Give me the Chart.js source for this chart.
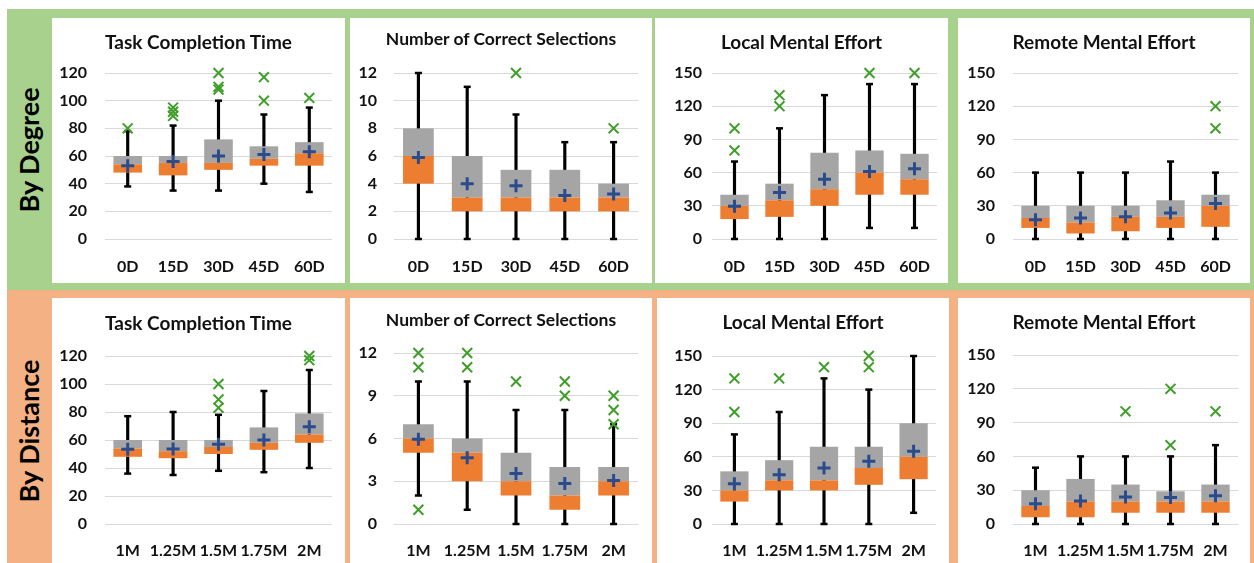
<!DOCTYPE html>
<html>
<head>
<meta charset="utf-8">
<script src="https://cdn.jsdelivr.net/npm/chart.js@4.4.1/dist/chart.umd.min.js"></script>
<style>
  body { margin: 0; width: 1254px; height: 563px; overflow: hidden; background: #fff; font-family: Lato, sans-serif; }
  .band { position: absolute; left: 7px; right: 0; }
  #bandTop { top: 9px; height: 281px; background: #a9d18e; }
  #bandBot { top: 290px; height: 273px; background: #f4b183; }
  .rowlab { position: absolute; left: 28px; font: bold 27px Lato; white-space: nowrap; color: #000;
            transform: translate(-50%, -50%) rotate(-90deg); }
  .panel { position: absolute; background: #fff; }
  .panel .ttl { position: absolute; left: 0; right: 0; height: 24px; line-height: 24px; text-align: center;
                font-family: Lato; font-weight: bold; color: #111; white-space: nowrap; }
  .panel canvas { position: absolute; left: 0; top: 0; }
</style>
</head>
<body>
<div class="band" id="bandTop"></div>
<div class="band" id="bandBot"></div>
<div class="rowlab" style="top:150px">By Degree</div>
<div class="rowlab" style="top:431px">By Distance</div>
<div id="panels"></div>

<script>
// ---------------------------------------------------------------------------
// Data: each box is [min, q1, median, q3, max]
// ---------------------------------------------------------------------------
const degreeLabels = ["0D", "15D", "30D", "45D", "60D"];
const distanceLabels = ["1M", "1.25M", "1.5M", "1.75M", "2M"];

// By degree
const tctDegreeBox = [[38, 48, 54, 60, 78], [35, 46, 55, 60, 82], [35, 50, 55, 72, 100], [40, 53, 58, 67, 90], [34, 53, 62, 70, 95]];
const tctDegreeMean = [53, 56, 60, 61, 63];
const tctDegreeOut = [["0D", 80], ["15D", 95], ["15D", 92], ["15D", 89], ["30D", 120], ["30D", 110], ["30D", 108], ["45D", 117], ["45D", 100], ["60D", 102]];

const ncsDegreeBox = [[0, 4, 6, 8, 12], [0, 2, 3, 6, 11], [0, 2, 3, 5, 9], [0, 2, 3, 5, 7], [0, 2, 3, 4, 7]];
const ncsDegreeMean = [5.9, 4.0, 3.85, 3.15, 3.25];
const ncsDegreeOut = [["30D", 12], ["60D", 8]];

const lmeDegreeBox = [[0, 18, 30, 40, 70], [0, 20, 35, 50, 100], [0, 30, 45, 78, 130], [10, 40, 60, 80, 140], [10, 40, 54, 77, 140]];
const lmeDegreeMean = [29.5, 42, 54, 61, 63.5];
const lmeDegreeOut = [["0D", 100], ["0D", 80], ["15D", 130], ["15D", 120], ["45D", 150], ["60D", 150]];

const rmeDegreeBox = [[0, 10, 19, 30, 60], [0, 5, 15, 30, 60], [0, 7, 20, 30, 60], [0, 10, 20, 35, 70], [0, 11, 30, 40, 60]];
const rmeDegreeMean = [17.5, 19, 20, 23.5, 32];
const rmeDegreeOut = [["60D", 120], ["60D", 100]];

// By distance
const tctDistanceBox = [[36, 48, 54, 60, 77], [35, 47, 52, 60, 80], [38, 50, 55, 60, 78], [37, 53, 58, 69, 95], [40, 58, 64, 79, 110]];
const tctDistanceMean = [53.4, 53.6, 57, 60, 69.5];
const tctDistanceOut = [["1.5M", 100], ["1.5M", 89], ["1.5M", 83], ["2M", 120], ["2M", 117]];

const ncsDistanceBox = [[2, 5, 6, 7, 10], [1, 3, 5, 6, 10], [0, 2, 3, 5, 8], [0, 1, 2, 4, 8], [0, 2, 3, 4, 7]];
const ncsDistanceMean = [5.95, 4.65, 3.55, 2.85, 3.05];
const ncsDistanceOut = [["1M", 12], ["1M", 11], ["1M", 1], ["1.25M", 12], ["1.25M", 11], ["1.5M", 10], ["1.75M", 10], ["1.75M", 9], ["2M", 9], ["2M", 8], ["2M", 7]];

const lmeDistanceBox = [[0, 20, 30, 47, 80], [0, 30, 39, 57, 100], [0, 30, 39, 69, 130], [0, 35, 50, 69, 120], [10, 40, 60, 90, 150]];
const lmeDistanceMean = [36, 44, 50, 56, 65];
const lmeDistanceOut = [["1M", 130], ["1M", 100], ["1.25M", 130], ["1.5M", 140], ["1.75M", 150], ["1.75M", 140]];

const rmeDistanceBox = [[0, 6, 16, 30, 50], [0, 6, 20, 40, 60], [0, 10, 20, 35, 60], [0, 10, 20, 29, 60], [0, 10, 20, 35, 70]];
const rmeDistanceMean = [18, 20.5, 24, 23.5, 25];
const rmeDistanceOut = [["1.5M", 100], ["1.75M", 120], ["1.75M", 70], ["2M", 100]];

// ---------------------------------------------------------------------------
// Panels (layout only)
// ---------------------------------------------------------------------------
const panels = [
  { title: "Task Completion Time", tsize: 19, labels: degreeLabels, box: tctDegreeBox, mean: tctDegreeMean, out: tctDegreeOut, max: 120, step: 20,
    x: 52, y: 18, w: 293, h: 265, ty: 24, top: 55, yw: 53, ypad: 18, right: 13, xh: 44, xpad: 10 },
  { title: "Number of Correct Selections", tsize: 17.5, labels: degreeLabels, box: ncsDegreeBox, mean: ncsDegreeMean, out: ncsDegreeOut, max: 12, step: 2,
    x: 350, y: 18, w: 302, h: 265, ty: 21, top: 55, yw: 44, ypad: 17, right: 14, xh: 44, xpad: 10 },
  { title: "Local Mental Effort", tsize: 19, labels: degreeLabels, box: lmeDegreeBox, mean: lmeDegreeMean, out: lmeDegreeOut, max: 150, step: 30,
    x: 655, y: 18, w: 293, h: 265, ty: 24, top: 55, yw: 57, ypad: 10, right: 11, xh: 44, xpad: 10 },
  { title: "Remote Mental Effort", tsize: 19, labels: degreeLabels, box: rmeDegreeBox, mean: rmeDegreeMean, out: rmeDegreeOut, max: 150, step: 30,
    x: 958, y: 18, w: 292, h: 265, ty: 24, top: 55, yw: 55, ypad: 18, right: 12, xh: 44, xpad: 10 },
  { title: "Task Completion Time", tsize: 19, labels: distanceLabels, box: tctDistanceBox, mean: tctDistanceMean, out: tctDistanceOut, max: 120, step: 20,
    x: 52, y: 298, w: 293, h: 265, ty: 25, top: 58, yw: 53, ypad: 18, right: 13, xh: 39, xpad: 9 },
  { title: "Number of Correct Selections", tsize: 17.5, labels: distanceLabels, box: ncsDistanceBox, mean: ncsDistanceMean, out: ncsDistanceOut, max: 12, step: 3,
    x: 350, y: 298, w: 302, h: 265, ty: 22, top: 55, yw: 44, ypad: 17, right: 14, xh: 39, xpad: 9 },
  { title: "Local Mental Effort", tsize: 19, labels: distanceLabels, box: lmeDistanceBox, mean: lmeDistanceMean, out: lmeDistanceOut, max: 150, step: 30,
    x: 657, y: 298, w: 292, h: 265, ty: 24, top: 58, yw: 55, ypad: 10, right: 13, xh: 39, xpad: 9 },
  { title: "Remote Mental Effort", tsize: 19, labels: distanceLabels, box: rmeDistanceBox, mean: rmeDistanceMean, out: rmeDistanceOut, max: 150, step: 30,
    x: 958, y: 298, w: 292, h: 265, ty: 24, top: 57, yw: 55, ypad: 18, right: 12, xh: 39, xpad: 9 },
];

Chart.defaults.font.family = "Lato";

const tickFont = { size: 16, weight: "bold" };

function drawPanel(p) {
  const div = document.createElement("div");
  div.className = "panel";
  div.style.cssText = `left:${p.x}px;top:${p.y}px;width:${p.w}px;height:${p.h}px`;
  div.innerHTML = `<canvas width="${p.w}" height="${p.h}"></canvas>
    <div class="ttl" style="top:${p.ty - 12}px;font-size:${p.tsize}px">${p.title}</div>`;
  document.getElementById("panels").appendChild(div);

  const caps = [];
  p.box.forEach((b, i) => {
    caps.push({ x: p.labels[i], y: b[0] });
    caps.push({ x: p.labels[i], y: b[4] });
  });

  new Chart(div.querySelector("canvas"), {
    type: "bar",
    data: {
      labels: p.labels,
      datasets: [
        { label: "whisker", data: p.box.map(b => [b[0], b[4]]), backgroundColor: "#000",
          barThickness: 2.5, grouped: false, order: 10 },
        { label: "q1-median", data: p.box.map(b => [b[1], b[2]]), backgroundColor: "#ed7d31",
          barPercentage: 0.63, categoryPercentage: 1, grouped: false, order: 5 },
        { label: "median-q3", data: p.box.map(b => [b[2], b[3]]), backgroundColor: "#a5a5a5",
          barPercentage: 0.63, categoryPercentage: 1, grouped: false, order: 5 },
        { type: "line", label: "caps", data: caps, showLine: false, pointStyle: "line",
          pointRadius: 3.5, pointBorderWidth: 2.5, pointBorderColor: "#000", clip: false, order: 4 },
        { type: "line", label: "outliers", data: p.out.map(o => ({ x: o[0], y: o[1] })), showLine: false,
          pointStyle: "crossRot", pointRadius: 7, pointBorderWidth: 2, pointBorderColor: "#3f9e2a", clip: false, order: 2 },
        { type: "line", label: "mean", data: p.mean, showLine: false, pointStyle: "cross",
          pointRadius: 6.5, pointBorderWidth: 3, pointBorderColor: "#2b4c8c", clip: false, order: 1 },
      ]
    },
    options: {
      responsive: false,
      animation: false,
      layout: { padding: { top: p.top, right: p.right, left: 0, bottom: 0 } },
      plugins: { legend: { display: false }, tooltip: { enabled: false } },
      scales: {
        x: {
          grid: { display: false }, border: { display: false },
          ticks: { font: tickFont, color: "#111", padding: p.xpad, maxRotation: 0, autoSkip: false },
          afterFit: s => { s.height = p.xh; }
        },
        y: {
          min: 0, max: p.max,
          grid: { color: "#d9d9d9", drawTicks: false }, border: { display: false },
          ticks: { stepSize: p.step, font: tickFont, color: "#111", padding: p.ypad },
          afterFit: s => { s.width = p.yw; }
        }
      }
    }
  });
}

panels.forEach(drawPanel);
</script>
</body>
</html>
